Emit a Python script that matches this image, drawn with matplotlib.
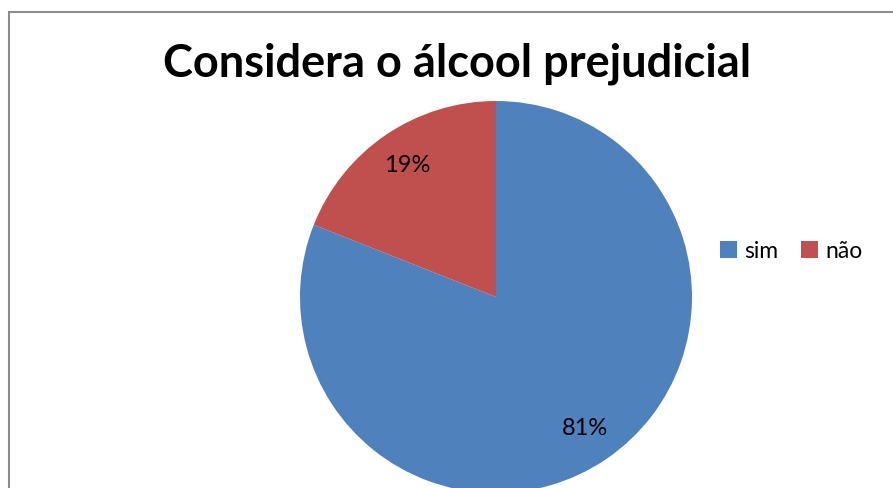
import matplotlib
matplotlib.use("Agg")
import matplotlib.pyplot as plt
from matplotlib.patches import Patch, Rectangle

categories = ["sim", "não"]
values = [81, 19]
colors = ["#4F81BD", "#C0504D"]
title = "Considera o álcool prejudicial"

plt.rcParams['font.family'] = ['Lato', 'DejaVu Sans']

W, H = 893, 488
fig = plt.figure(figsize=(W / 100, H / 100), dpi=100)
fig.patch.set_facecolor("white")

# chart border (bottom and right edges fall outside the image)
fig.patches.append(Rectangle((9 / W, -0.05), 1.0, (H - 12) / H + 0.05, transform=fig.transFigure,
                             fill=False, edgecolor="#8c8c8c", linewidth=1.5, clip_on=False))

R = 196
cx, cy = 496, 297
ax = fig.add_axes([(cx - R) / W, (H - cy - R) / H, 2 * R / W, 2 * R / H])
wedges, texts, autotexts = ax.pie(values, colors=colors, startangle=90, counterclock=False,
                                  autopct=lambda p: f"{p:.0f}%", pctdistance=0.81,
                                  radius=1.0, textprops=dict(fontsize=17, color="black"))
ax.set_xlim(-1, 1)
ax.set_ylim(-1, 1)
ax.set_aspect("equal")
ax.axis("off")

fig.text(457 / W, 1 - 64 / H, title, ha="center", va="center", fontsize=32.5, fontweight="bold")

handles = [Patch(facecolor=c, edgecolor="none") for c in colors]
fig.legend(handles, categories, loc="center", bbox_to_anchor=(791 / W, 1 - 251 / H), ncol=2,
           frameon=False, fontsize=16.5, handlelength=0.75, handleheight=0.75, handletextpad=0.3,
           columnspacing=1.0)

fig.savefig("out.png", dpi=100)
